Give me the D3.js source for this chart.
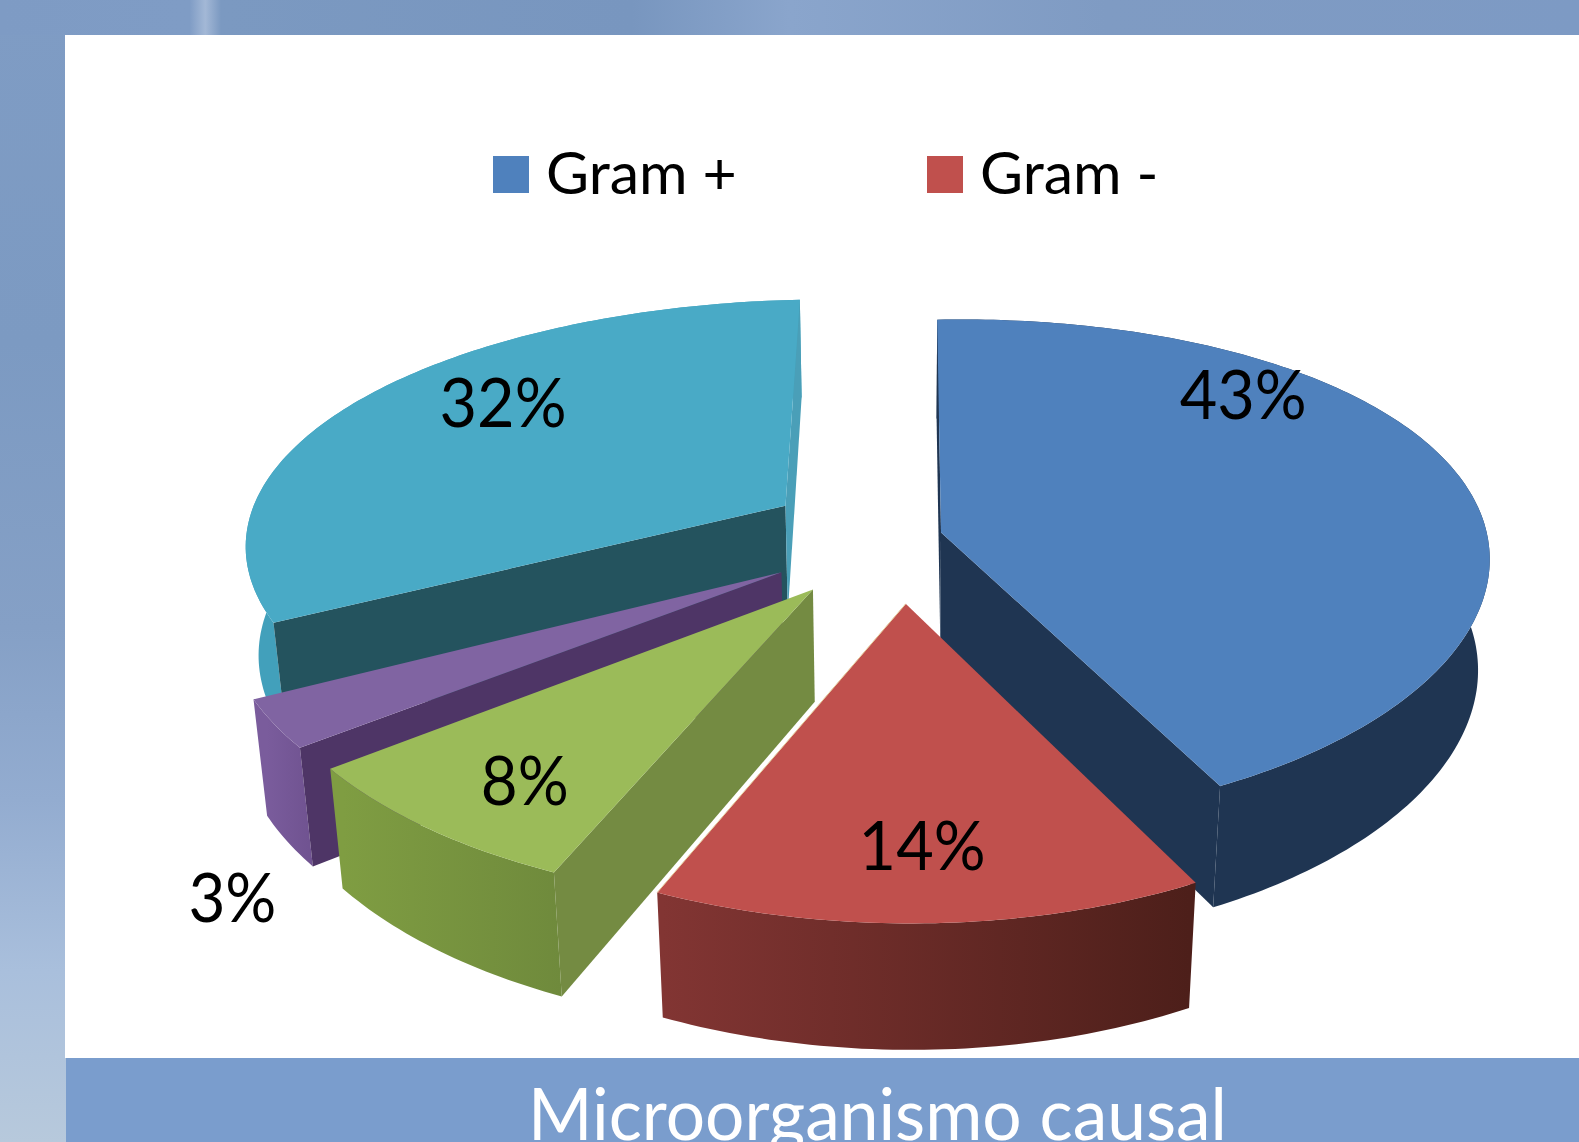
<!DOCTYPE html>
<html>
<head>
<meta charset="utf-8">
<style>
  html, body { margin: 0; padding: 0; background: #fff; overflow: hidden; }
  text { font-family: Lato, "Open Sans", sans-serif; }
</style>
<script src="https://cdn.jsdelivr.net/npm/d3@7"></script>
</head>
<body>
<div id="chart"></div>
<script>
// values, clockwise from 12 o'clock
const values = [43, 14, 8, 3, 32];
const legendNames = ["Gram +", "Gram -"];
const titleText = "Microorganismo causal";

// how far each slice is pulled out (1 = pie radius)
const explode = [0.072, 0.26, 0.259, 0.258, 0.258];

// slice colours
const topColors = ["#4f81bd", "#c0504d", "#9bbb59", "#8064a2", "#49aac6"];
const startWallColors = ["#1f3552", "#5e2523", "#748b42", "#4e3566", "#24535e"];
const endWallColors = ["#1f3552", "#5e2523", "#748b42", "#4e3566", "#4a9fb8"];
const outerLeftColors = ["#1f3552", "#823533", "#7f9d42", "#7a5c9c", "#42a0bb"];
const outerRightColors = ["#1f3552", "#4d1f1a", "#6f8a3c", "#6f5290", "#42a0bb"];

// back to front
const drawOrder = [0, 4, 3, 2, 1];

// label anchors on the pie plane
const labelU = [0.674, -0.001, -0.648, -1.098, -0.787];
const labelV = [-0.602, 1.05, 0.835, 1.16, -0.626];

const width = 1579, height = 1142;
const panel = {left: 65, top: 35, bottom: 1058};

const svg = d3.select("#chart").append("svg")
    .attr("width", width)
    .attr("height", height)
    .style("display", "block");
const defs = svg.append("defs");

// backdrop
const leftGrad = defs.append("linearGradient").attr("id", "leftGrad")
    .attr("x1", 0).attr("y1", 0).attr("x2", 0).attr("y2", 1);
[[0, "#7f9cc4"], [0.3, "#7c9ac2"], [0.55, "#85a0c6"], [0.7, "#93acd0"], [0.85, "#a9bfdc"], [1, "#b7c9dc"]]
    .forEach(d => leftGrad.append("stop").attr("offset", d[0]).attr("stop-color", d[1]));
const topGrad = defs.append("linearGradient").attr("id", "topGrad");
[[0, "#7e9bc4"], [0.12, "#7f9cc5"], [0.13, "#a3b8d6"], [0.14, "#7b99c1"], [0.4, "#7896bf"], [0.5, "#8aa5cc"], [0.7, "#7f9bc3"], [1, "#7d9ac4"]]
    .forEach(d => topGrad.append("stop").attr("offset", d[0]).attr("stop-color", d[1]));

svg.append("rect").attr("width", width).attr("height", height).attr("fill", "url(#leftGrad)");
svg.append("rect").attr("width", width).attr("height", panel.top).attr("fill", "url(#topGrad)");
svg.append("rect")
    .attr("x", panel.left).attr("y", panel.top)
    .attr("width", width - panel.left).attr("height", panel.bottom - panel.top)
    .attr("fill", "#fff");
svg.append("rect")
    .attr("x", panel.left + 1).attr("y", panel.bottom)
    .attr("width", width - panel.left).attr("height", height - panel.bottom)
    .attr("fill", "#7a9dcd");

// perspective projection of the pie
const cx = 903, cy = 537;
const uScale = d3.scaleLinear().domain([0, 1]).range([0, 544]);
const vScale = d3.scaleLinear().domain([0, 1]).range([0, 247]);
const hScale = d3.scaleLinear().domain([0, 1]).range([0, 112]);
const growX = 0.12, growY = 0.155, deepShrink = 0.02;
const lean = 8, roll = -0.018;

function project(u, v, h) {
    const sx = 1 / (1 - growX * v + deepShrink * h);
    const sy = 1 / (1 - growY * v + deepShrink * h);
    const x = uScale(u) * sx + lean * (v * v + v) * sx;
    const y = sy * (vScale(v) + hScale(h));
    return [cx + x, cy + y + roll * x];
}

const pie = d3.pie().sort(null).value(d => d);
const arcs = pie(values);
const path = d3.line();

drawOrder.forEach(i => {
    const d = arcs[i];
    const mid = (d.startAngle + d.endAngle) / 2;
    const ou = explode[i] * Math.sin(mid), ov = -explode[i] * Math.cos(mid);
    const rim = a => [ou + Math.sin(a), ov - Math.cos(a)];
    const n = Math.ceil((d.endAngle - d.startAngle) * 60);
    const angles = d3.range(n + 1).map(k => d.startAngle + (d.endAngle - d.startAngle) * k / n);
    const g = svg.append("g").attr("class", "slice");

    const rimTop = angles.map(a => project(...rim(a), 0));
    const rimBottom = angles.map(a => project(...rim(a), 1));

    const wallTo = a => {
        const r = rim(a);
        return [project(ou, ov, 0), project(r[0], r[1], 0), project(r[0], r[1], 1), project(ou, ov, 1)];
    };

    // side gradient runs across the slice's outer wall
    const xs = rimBottom.map(p => p[0]);
    const grad = defs.append("linearGradient").attr("id", "outer" + i)
        .attr("gradientUnits", "userSpaceOnUse")
        .attr("x1", d3.min(xs)).attr("x2", d3.max(xs))
        .attr("y1", 0).attr("y2", 0);
    grad.append("stop").attr("offset", 0).attr("stop-color", outerLeftColors[i]);
    grad.append("stop").attr("offset", 1).attr("stop-color", outerRightColors[i]);

    g.append("path")
        .attr("d", path(rimTop.concat(rimBottom.slice().reverse())) + "Z")
        .attr("fill", `url(#outer${i})`);

    // cut faces, only the ones turned towards the viewer
    const startWall = wallTo(d.startAngle), endWall = wallTo(d.endAngle);
    if (d3.polygonArea(startWall) > 0) {
        g.append("path").attr("d", path(startWall) + "Z").attr("fill", startWallColors[i]);
    }
    if (d3.polygonArea(endWall) < 0) {
        g.append("path").attr("d", path(endWall) + "Z").attr("fill", endWallColors[i]);
    }

    g.append("path")
        .attr("d", path([project(ou, ov, 0)].concat(rimTop)) + "Z")
        .attr("fill", topColors[i]);

    // pale seam where the red slice meets the green one
    if (i === 1) {
        g.append("path")
            .attr("d", path([project(ou, ov, 0), rimTop[rimTop.length - 1]]))
            .attr("stroke", "#e6cf9f")
            .attr("stroke-width", 1)
            .attr("fill", "none");
    }
});

// percent labels
arcs.forEach((d, i) => {
    const p = project(labelU[i], labelV[i], 0);
    svg.append("text")
        .attr("x", p[0]).attr("y", p[1]).attr("dy", "0.35em")
        .attr("text-anchor", "middle")
        .attr("font-size", 68)
        .attr("textLength", values[i] < 10 ? 88 : 127)
        .attr("lengthAdjust", "spacingAndGlyphs")
        .attr("fill", "#000")
        .text(values[i] + "%");
});

// legend
const legendX = d3.scalePoint().domain(legendNames).range([493, 927]);
const legend = svg.selectAll("g.legend").data(legendNames).enter().append("g")
    .attr("class", "legend")
    .attr("transform", d => `translate(${legendX(d)},156)`);
legend.append("rect").attr("width", 36).attr("height", 37).attr("fill", (d, i) => topColors[i]);
legend.append("text")
    .attr("x", 53).attr("y", 38)
    .attr("font-size", 59)
    .attr("fill", "#000")
    .text(d => d);

// bottom caption, cut by the window edge
svg.append("text")
    .attr("x", 528).attr("y", 1140)
    .attr("font-size", 72)
    .attr("textLength", 699)
    .attr("lengthAdjust", "spacingAndGlyphs")
    .attr("fill", "#fff")
    .text(titleText);
</script>
</body>
</html>
